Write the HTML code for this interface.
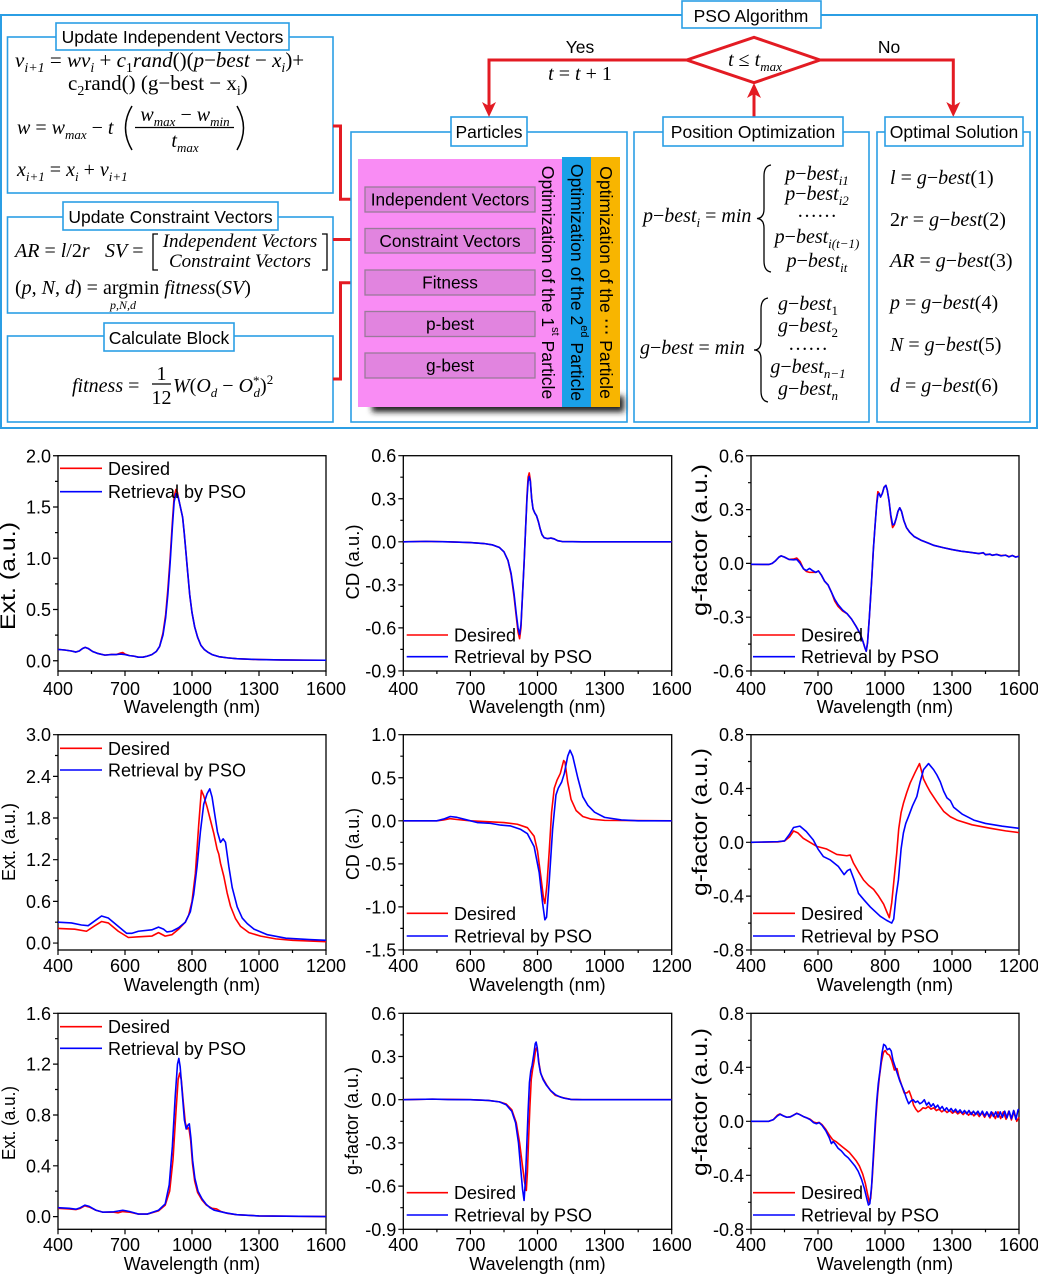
<!DOCTYPE html>
<html><head><meta charset="utf-8"><style>
html,body{margin:0;padding:0;background:#fff;}
svg{display:block;font-family:"Liberation Sans",Arial,sans-serif;}
text{fill:#000;}
.m,.m text{font-family:"Liberation Serif","DejaVu Serif",serif;font-size:20px;}
.lb{font-size:17.5px;}
.tk{font-size:18px;}
.lg{font-size:18px;}
.bx{fill:#fff;stroke:#2b9ee4;stroke-width:1.6;}
.fr{fill:none;stroke:#000;stroke-width:1.3;}
.tm{fill:none;stroke:#000;stroke-width:1.2;}
.rd{fill:none;stroke:#e31b23;stroke-width:3;}
.ah{fill:#e31b23;}
.crv polyline{fill:none;stroke-width:1.6;stroke-linejoin:round;}
</style></head><body>
<svg width="1038" height="1276" viewBox="0 0 1038 1276" xmlns="http://www.w3.org/2000/svg">
<defs>
<filter id="blur" x="-20%" y="-50%" width="140%" height="200%"><feGaussianBlur stdDeviation="3"/></filter>
</defs>
<rect x="0" y="0" width="1038" height="1276" fill="#fff"/>

<!-- ============ TOP DIAGRAM ============ -->
<rect x="1" y="15" width="1036" height="413" fill="none" stroke="#2b9ee4" stroke-width="2"/>
<rect class="bx" x="682" y="1" width="139" height="27"/>
<text x="751" y="22" text-anchor="middle" class="lb">PSO Algorithm</text>

<!-- left boxes -->
<rect class="bx" x="7.5" y="37" width="325.5" height="156"/>
<rect class="bx" x="56" y="23" width="233" height="27"/>
<text x="172.5" y="43" text-anchor="middle" class="lb">Update Independent Vectors</text>

<rect class="bx" x="7.5" y="217" width="325.5" height="96"/>
<rect class="bx" x="63" y="202" width="215" height="28"/>
<text x="170.5" y="223" text-anchor="middle" class="lb">Update Constraint Vectors</text>

<rect class="bx" x="7.5" y="336" width="325.5" height="86"/>
<rect class="bx" x="104" y="323" width="130" height="28"/>
<text x="169" y="344" text-anchor="middle" class="lb">Calculate Block</text>

<!-- box1 math -->
<text class="m" x="15" y="67" style="font-size:21px"><tspan font-style="italic">v</tspan><tspan font-style="italic" font-size="14" baseline-shift="-5">i+1</tspan> = <tspan font-style="italic">wv</tspan><tspan font-style="italic" font-size="14" baseline-shift="-5">i</tspan> + <tspan font-style="italic">c</tspan><tspan font-size="14" baseline-shift="-5">1</tspan><tspan font-style="italic">rand</tspan>()(<tspan font-style="italic">p</tspan>−<tspan font-style="italic">best</tspan> − <tspan font-style="italic">x</tspan><tspan font-style="italic" font-size="14" baseline-shift="-5">i</tspan>)+</text>
<text class="m" x="68" y="90" style="font-size:21px">c<tspan font-size="14" baseline-shift="-5">2</tspan>rand() (g−best − x<tspan font-size="14" baseline-shift="-5">i</tspan>)</text>
<text class="m" x="17" y="134"><tspan font-style="italic">w</tspan> = <tspan font-style="italic">w</tspan><tspan font-style="italic" font-size="13" baseline-shift="-5">max</tspan> − <tspan font-style="italic">t</tspan></text>
<path d="M132,106 Q119,128 132,150 M237,106 Q250,128 237,150" fill="none" stroke="#000" stroke-width="1.5"/>
<text class="m" x="185" y="121" text-anchor="middle"><tspan font-style="italic">w</tspan><tspan font-style="italic" font-size="13" baseline-shift="-5">max</tspan> − <tspan font-style="italic">w</tspan><tspan font-style="italic" font-size="13" baseline-shift="-5">min</tspan></text>
<line x1="135" y1="127.5" x2="234" y2="127.5" stroke="#000" stroke-width="1.2"/>
<text class="m" x="185" y="147" text-anchor="middle"><tspan font-style="italic">t</tspan><tspan font-style="italic" font-size="13" baseline-shift="-5">max</tspan></text>
<text class="m" x="17" y="176"><tspan font-style="italic">x</tspan><tspan font-style="italic" font-size="13" baseline-shift="-5">i+1</tspan> = <tspan font-style="italic">x</tspan><tspan font-style="italic" font-size="13" baseline-shift="-5">i</tspan> + <tspan font-style="italic">v</tspan><tspan font-style="italic" font-size="13" baseline-shift="-5">i+1</tspan></text>

<!-- box2 math -->
<text class="m" x="15" y="257"><tspan font-style="italic">AR</tspan> = <tspan font-style="italic">l</tspan>/2<tspan font-style="italic">r</tspan></text>
<text class="m" x="105" y="257"><tspan font-style="italic">SV</tspan> =</text>
<path d="M158,234 H153 V270 H158 M322,234 H327 V270 H322" fill="none" stroke="#000" stroke-width="1.3"/>
<text class="m" x="240" y="247" text-anchor="middle" font-style="italic" style="font-size:19px">Independent Vectors</text>
<text class="m" x="240" y="267" text-anchor="middle" font-style="italic" style="font-size:19px">Constraint Vectors</text>
<text class="m" x="15" y="294">(<tspan font-style="italic">p</tspan>, <tspan font-style="italic">N</tspan>, <tspan font-style="italic">d</tspan>) = argmin <tspan font-style="italic">fitness</tspan>(<tspan font-style="italic">SV</tspan>)</text>
<text class="m" x="110" y="309" font-style="italic" style="font-size:12px">p,N,d</text>

<!-- box3 math -->
<text class="m" x="72" y="392"><tspan font-style="italic">fitness</tspan> =</text>
<text class="m" x="161.5" y="380" text-anchor="middle">1</text>
<line x1="152" y1="384" x2="171" y2="384" stroke="#000" stroke-width="1.2"/>
<text class="m" x="161.5" y="404" text-anchor="middle">12</text>
<text class="m" x="173" y="392"><tspan font-style="italic">W</tspan>(<tspan font-style="italic">O</tspan><tspan font-style="italic" font-size="13" baseline-shift="-5">d</tspan> − <tspan font-style="italic">O</tspan><tspan font-size="13" baseline-shift="7">*</tspan><tspan font-style="italic" font-size="13" baseline-shift="-5" dx="-6">d</tspan>)<tspan font-size="13" baseline-shift="8">2</tspan></text>

<!-- red connectors left -->
<path class="rd" d="M333,126 H340.5 V199.3 H356"/>
<polygon class="ah" points="365,199.3 351,192.3 355,199.3 351,206.3"/>
<path class="rd" d="M333,239.5 H356"/>
<polygon class="ah" points="365,239.5 351,232.5 355,239.5 351,246.5"/>
<path class="rd" d="M333,379 H340.5 V282.7 H356"/>
<polygon class="ah" points="365,282.7 351,275.7 355,282.7 351,289.7"/>

<!-- Particles -->
<rect class="bx" x="351" y="132" width="276" height="290"/>
<rect x="372" y="396" width="252" height="16" fill="#222" filter="url(#blur)"/>
<rect x="358" y="159" width="204" height="248" fill="#f98cf4"/>
<rect x="562" y="157" width="29" height="250" fill="#1aa0e8"/>
<rect x="591" y="157" width="29" height="250" fill="#f8b500"/>
<g fill="#e184df" stroke="#9a7a9a" stroke-width="1.3">
<rect x="365" y="187" width="170" height="25"/>
<rect x="365" y="228.5" width="170" height="24.5"/>
<rect x="365" y="270" width="170" height="25"/>
<rect x="365" y="311.5" width="170" height="25"/>
<rect x="365" y="353" width="170" height="25"/>
</g>
<g text-anchor="middle" font-size="17.3">
<text x="450" y="205.5">Independent Vectors</text>
<text x="450" y="247">Constraint Vectors</text>
<text x="450" y="288.5">Fitness</text>
<text x="450" y="330">p-best</text>
<text x="450" y="371.5">g-best</text>
</g>
<text transform="translate(548,282.5) rotate(90)" text-anchor="middle" dominant-baseline="central" font-size="17.6">Optimization of the 1<tspan font-size="11" baseline-shift="7">st</tspan> Particle</text>
<text transform="translate(577,282.5) rotate(90)" text-anchor="middle" dominant-baseline="central" font-size="17.6">Optimization of the 2<tspan font-size="11" baseline-shift="7">ed</tspan> Particle</text>
<text transform="translate(606,282.5) rotate(90)" text-anchor="middle" dominant-baseline="central" font-size="17.6">Optimization of the <tspan font-family="DejaVu Sans">⋯</tspan> Particle</text>
<rect class="bx" x="451" y="117" width="76" height="29"/>
<text x="489" y="138" text-anchor="middle" class="lb">Particles</text>

<!-- Diamond and flow -->
<path class="rd" d="M686.7,60 H489 V106"/>
<polygon class="ah" points="489,117 482,102 489,106 496,102"/>
<path class="rd" d="M820,60 H953.3 V106"/>
<polygon class="ah" points="953.3,117 946.3,102 953.3,106 960.3,102"/>
<path class="rd" d="M754,117 V94"/>
<polygon class="ah" points="754,83 747,98 754,94 761,98"/>
<polygon points="686.7,60 754,37.3 820,60 754,82.7" fill="#fff" stroke="#e31b23" stroke-width="3"/>
<text class="m" x="755" y="66" text-anchor="middle"><tspan font-style="italic">t</tspan> ≤ <tspan font-style="italic">t</tspan><tspan font-style="italic" font-size="13" baseline-shift="-5">max</tspan></text>
<text x="580" y="53" text-anchor="middle" class="lb">Yes</text>
<text class="m" x="580" y="80" text-anchor="middle"><tspan font-style="italic">t</tspan> = <tspan font-style="italic">t</tspan> + 1</text>
<text x="889" y="53" text-anchor="middle" class="lb">No</text>

<!-- Position Optimization -->
<rect class="bx" x="634" y="132" width="235" height="290"/>
<rect class="bx" x="663" y="117" width="180" height="29"/>
<text x="753" y="138" text-anchor="middle" class="lb">Position Optimization</text>
<text class="m" x="643" y="222"><tspan font-style="italic">p</tspan>−<tspan font-style="italic">best</tspan><tspan font-style="italic" font-size="13" baseline-shift="-5">i</tspan> = <tspan font-style="italic">min</tspan></text>
<path d="M771,165 Q764,166 764,176 L764,209 Q764,218 757,218.5 Q764,219 764,228 L764,261 Q764,271 771,272" fill="none" stroke="#000" stroke-width="1.3"/>
<g class="m" text-anchor="middle">
<text x="817" y="180"><tspan font-style="italic">p</tspan>−<tspan font-style="italic">best</tspan><tspan font-style="italic" font-size="13" baseline-shift="-5">i1</tspan></text>
<text x="817" y="200"><tspan font-style="italic">p</tspan>−<tspan font-style="italic">best</tspan><tspan font-style="italic" font-size="13" baseline-shift="-5">i2</tspan></text>
<text x="817" y="217">……</text>
<text x="817" y="243"><tspan font-style="italic">p</tspan>−<tspan font-style="italic">best</tspan><tspan font-style="italic" font-size="13" baseline-shift="-5">i(t−1)</tspan></text>
<text x="817" y="267"><tspan font-style="italic">p</tspan>−<tspan font-style="italic">best</tspan><tspan font-style="italic" font-size="13" baseline-shift="-5">it</tspan></text>
</g>
<text class="m" x="640" y="354"><tspan font-style="italic">g</tspan>−<tspan font-style="italic">best</tspan> = <tspan font-style="italic">min</tspan></text>
<path d="M768,298 Q761,299 761,309 L761,341 Q761,350 754,350 Q761,350 761,359 L761,391 Q761,401 768,402" fill="none" stroke="#000" stroke-width="1.3"/>
<g class="m" text-anchor="middle">
<text x="808" y="310"><tspan font-style="italic">g</tspan>−<tspan font-style="italic">best</tspan><tspan font-size="13" baseline-shift="-5">1</tspan></text>
<text x="808" y="332"><tspan font-style="italic">g</tspan>−<tspan font-style="italic">best</tspan><tspan font-size="13" baseline-shift="-5">2</tspan></text>
<text x="808" y="350">……</text>
<text x="808" y="373"><tspan font-style="italic">g</tspan>−<tspan font-style="italic">best</tspan><tspan font-style="italic" font-size="13" baseline-shift="-5">n−1</tspan></text>
<text x="808" y="395"><tspan font-style="italic">g</tspan>−<tspan font-style="italic">best</tspan><tspan font-style="italic" font-size="13" baseline-shift="-5">n</tspan></text>
</g>

<!-- Optimal Solution -->
<rect class="bx" x="877" y="132" width="153" height="290"/>
<rect class="bx" x="885" y="117" width="138" height="29"/>
<text x="954" y="138" text-anchor="middle" class="lb">Optimal Solution</text>
<g class="m">
<text x="890" y="184"><tspan font-style="italic">l</tspan> = <tspan font-style="italic">g</tspan>−<tspan font-style="italic">best</tspan>(1)</text>
<text x="890" y="226">2<tspan font-style="italic">r</tspan> = <tspan font-style="italic">g</tspan>−<tspan font-style="italic">best</tspan>(2)</text>
<text x="890" y="267"><tspan font-style="italic">AR</tspan> = <tspan font-style="italic">g</tspan>−<tspan font-style="italic">best</tspan>(3)</text>
<text x="890" y="309"><tspan font-style="italic">p</tspan> = <tspan font-style="italic">g</tspan>−<tspan font-style="italic">best</tspan>(4)</text>
<text x="890" y="351"><tspan font-style="italic">N</tspan> = <tspan font-style="italic">g</tspan>−<tspan font-style="italic">best</tspan>(5)</text>
<text x="890" y="392"><tspan font-style="italic">d</tspan> = <tspan font-style="italic">g</tspan>−<tspan font-style="italic">best</tspan>(6)</text>
</g>

<!-- ============ PLOTS ============ -->
<rect class="fr" x="58" y="455.7" width="268" height="215.3"/>
<rect class="fr" x="403.3" y="455.7" width="268.4" height="215.3"/>
<rect class="fr" x="751" y="455.7" width="268" height="215.3"/>
<rect class="fr" x="58" y="734.7" width="268" height="215.3"/>
<rect class="fr" x="403.3" y="734.7" width="268.4" height="215.3"/>
<rect class="fr" x="751" y="734.7" width="268" height="215.3"/>
<rect class="fr" x="58" y="1013.3" width="268" height="216"/>
<rect class="fr" x="403.3" y="1013.3" width="268.4" height="216"/>
<rect class="fr" x="751" y="1013.3" width="268" height="216"/>

<path class="tm" d="
M58,671v5M125,671v5M192,671v5M259,671v5M326,671v5M91.5,671v3M158.5,671v3M225.5,671v3M292.5,671v3
M403.3,671v5M470.4,671v5M537.5,671v5M604.6,671v5M671.7,671v5M436.9,671v3M504,671v3M571.1,671v3M638.2,671v3
M751,671v5M818,671v5M885,671v5M952,671v5M1019,671v5M784.5,671v3M851.5,671v3M918.5,671v3M985.5,671v3
M58,950v5M125,950v5M192,950v5M259,950v5M326,950v5M91.5,950v3M158.5,950v3M225.5,950v3M292.5,950v3
M403.3,950v5M470.4,950v5M537.5,950v5M604.6,950v5M671.7,950v5M436.9,950v3M504,950v3M571.1,950v3M638.2,950v3
M751,950v5M818,950v5M885,950v5M952,950v5M1019,950v5M784.5,950v3M851.5,950v3M918.5,950v3M985.5,950v3
M58,1229.3v5M125,1229.3v5M192,1229.3v5M259,1229.3v5M326,1229.3v5M91.5,1229.3v3M158.5,1229.3v3M225.5,1229.3v3M292.5,1229.3v3
M403.3,1229.3v5M470.4,1229.3v5M537.5,1229.3v5M604.6,1229.3v5M671.7,1229.3v5M436.9,1229.3v3M504,1229.3v3M571.1,1229.3v3M638.2,1229.3v3
M751,1229.3v5M818,1229.3v5M885,1229.3v5M952,1229.3v5M1019,1229.3v5M784.5,1229.3v3M851.5,1229.3v3M918.5,1229.3v3M985.5,1229.3v3
M58,660.75h-5M58,609.5h-5M58,558.25h-5M58,507h-5M58,455.75h-5M58,635.1h-3M58,583.9h-3M58,532.6h-3M58,481.4h-3
M403.3,455.7h-5M403.3,498.75h-5M403.3,541.8h-5M403.3,584.85h-5M403.3,627.9h-5M403.3,670.95h-5M403.3,477.2h-3M403.3,520.3h-3M403.3,563.3h-3M403.3,606.4h-3M403.3,649.4h-3
M751,455.8h-5M751,509.6h-5M751,563.4h-5M751,617.2h-5M751,671h-5M751,482.7h-3M751,536.5h-3M751,590.3h-3M751,644.1h-3
M58,943.05h-5M58,901.4h-5M58,859.7h-5M58,818h-5M58,776.4h-5M58,734.7h-5M58,922.2h-3M58,880.5h-3M58,838.9h-3M58,797.2h-3M58,755.5h-3
M403.3,734.7h-5M403.3,777.75h-5M403.3,820.8h-5M403.3,863.85h-5M403.3,906.9h-5M403.3,949.95h-5M403.3,756.2h-3M403.3,799.3h-3M403.3,842.3h-3M403.3,885.4h-3M403.3,928.4h-3
M751,734.6h-5M751,788.5h-5M751,842.3h-5M751,896.1h-5M751,950h-5M751,761.5h-3M751,815.4h-3M751,869.2h-3M751,923.1h-3
M58,1216.6h-5M58,1165.8h-5M58,1115h-5M58,1064.1h-5M58,1013.3h-5M58,1191.2h-3M58,1140.4h-3M58,1089.5h-3M58,1038.7h-3
M403.3,1013.3h-5M403.3,1056.5h-5M403.3,1099.7h-5M403.3,1142.9h-5M403.3,1186.1h-5M403.3,1229.3h-5M403.3,1034.9h-3M403.3,1078.1h-3M403.3,1121.3h-3M403.3,1164.5h-3M403.3,1207.7h-3
M751,1013.3h-5M751,1067.3h-5M751,1121.3h-5M751,1175.3h-5M751,1229.3h-5M751,1040.3h-3M751,1094.3h-3M751,1148.3h-3M751,1202.3h-3"/>

<g class="tk" text-anchor="end">
<text x="51" y="667.25">0.0</text><text x="51" y="616">0.5</text><text x="51" y="564.75">1.0</text><text x="51" y="513.5">1.5</text><text x="51" y="462.25">2.0</text>
<text x="396.3" y="462.2">0.6</text><text x="396.3" y="505.25">0.3</text><text x="396.3" y="548.3">0.0</text><text x="396.3" y="591.35">-0.3</text><text x="396.3" y="634.4">-0.6</text><text x="396.3" y="677.45">-0.9</text>
<text x="744" y="462.3">0.6</text><text x="744" y="516.1">0.3</text><text x="744" y="569.9">0.0</text><text x="744" y="623.7">-0.3</text><text x="744" y="677.5">-0.6</text>
<text x="51" y="949.55">0.0</text><text x="51" y="907.9">0.6</text><text x="51" y="866.2">1.2</text><text x="51" y="824.5">1.8</text><text x="51" y="782.9">2.4</text><text x="51" y="741.2">3.0</text>
<text x="396.3" y="741.2">1.0</text><text x="396.3" y="784.25">0.5</text><text x="396.3" y="827.3">0.0</text><text x="396.3" y="870.35">-0.5</text><text x="396.3" y="913.4">-1.0</text><text x="396.3" y="956.45">-1.5</text>
<text x="744" y="741.1">0.8</text><text x="744" y="795">0.4</text><text x="744" y="848.8">0.0</text><text x="744" y="902.6">-0.4</text><text x="744" y="956.5">-0.8</text>
<text x="51" y="1223.1">0.0</text><text x="51" y="1172.3">0.4</text><text x="51" y="1121.5">0.8</text><text x="51" y="1070.6">1.2</text><text x="51" y="1019.8">1.6</text>
<text x="396.3" y="1019.8">0.6</text><text x="396.3" y="1063">0.3</text><text x="396.3" y="1106.2">0.0</text><text x="396.3" y="1149.4">-0.3</text><text x="396.3" y="1192.6">-0.6</text><text x="396.3" y="1235.8">-0.9</text>
<text x="744" y="1019.8">0.8</text><text x="744" y="1073.8">0.4</text><text x="744" y="1127.8">0.0</text><text x="744" y="1181.8">-0.4</text><text x="744" y="1235.8">-0.8</text>
</g>

<g class="tk" text-anchor="middle">
<text x="58" y="695">400</text><text x="125" y="695">700</text><text x="192" y="695">1000</text><text x="259" y="695">1300</text><text x="326" y="695">1600</text>
<text x="403.3" y="695">400</text><text x="470.4" y="695">700</text><text x="537.5" y="695">1000</text><text x="604.6" y="695">1300</text><text x="671.7" y="695">1600</text>
<text x="751" y="695">400</text><text x="818" y="695">700</text><text x="885" y="695">1000</text><text x="952" y="695">1300</text><text x="1019" y="695">1600</text>
<text x="58" y="972">400</text><text x="125" y="972">600</text><text x="192" y="972">800</text><text x="259" y="972">1000</text><text x="326" y="972">1200</text>
<text x="403.3" y="972">400</text><text x="470.4" y="972">600</text><text x="537.5" y="972">800</text><text x="604.6" y="972">1000</text><text x="671.7" y="972">1200</text>
<text x="751" y="972">400</text><text x="818" y="972">600</text><text x="885" y="972">800</text><text x="952" y="972">1000</text><text x="1019" y="972">1200</text>
<text x="58" y="1251">400</text><text x="125" y="1251">700</text><text x="192" y="1251">1000</text><text x="259" y="1251">1300</text><text x="326" y="1251">1600</text>
<text x="403.3" y="1251">400</text><text x="470.4" y="1251">700</text><text x="537.5" y="1251">1000</text><text x="604.6" y="1251">1300</text><text x="671.7" y="1251">1600</text>
<text x="751" y="1251">400</text><text x="818" y="1251">700</text><text x="885" y="1251">1000</text><text x="952" y="1251">1300</text><text x="1019" y="1251">1600</text>
<text x="192" y="713">Wavelength (nm)</text><text x="537.5" y="713">Wavelength (nm)</text><text x="885" y="713">Wavelength (nm)</text>
<text x="192" y="991">Wavelength (nm)</text><text x="537.5" y="991">Wavelength (nm)</text><text x="885" y="991">Wavelength (nm)</text>
<text x="192" y="1270">Wavelength (nm)</text><text x="537.5" y="1270">Wavelength (nm)</text><text x="885" y="1270">Wavelength (nm)</text>
</g>

<g text-anchor="middle">
<text transform="translate(15,576) rotate(-90)" font-size="21" textLength="108" lengthAdjust="spacingAndGlyphs">Ext. (a.u.)</text>
<text transform="translate(359,562) rotate(-90)" font-size="18" textLength="75" lengthAdjust="spacingAndGlyphs">CD (a.u.)</text>
<text transform="translate(707,540) rotate(-90)" font-size="21" textLength="152" lengthAdjust="spacingAndGlyphs">g-factor (a.u.)</text>
<text transform="translate(15,842) rotate(-90)" font-size="18" textLength="78" lengthAdjust="spacingAndGlyphs">Ext. (a.u.)</text>
<text transform="translate(359,844) rotate(-90)" font-size="18" textLength="72" lengthAdjust="spacingAndGlyphs">CD (a.u.)</text>
<text transform="translate(707,822) rotate(-90)" font-size="21" textLength="148" lengthAdjust="spacingAndGlyphs">g-factor (a.u.)</text>
<text transform="translate(15,1123) rotate(-90)" font-size="18" textLength="74" lengthAdjust="spacingAndGlyphs">Ext. (a.u.)</text>
<text transform="translate(358,1121) rotate(-90)" font-size="18" textLength="108" lengthAdjust="spacingAndGlyphs">g-factor (a.u.)</text>
<text transform="translate(707,1102) rotate(-90)" font-size="21" textLength="148" lengthAdjust="spacingAndGlyphs">g-factor (a.u.)</text>
</g>

<!-- ============ CURVES ============ -->
<g class="crv" transform="translate(-31.33,660.75) scale(0.22333,-102.5)">
<polyline vector-effect="non-scaling-stroke" stroke="#ff0000" points="400,0.11 430,0.105 460,0.095 480,0.085 495,0.095 510,0.12 522,0.13 535,0.12 555,0.09 580,0.07 610,0.055 640,0.062 660,0.06 680,0.075 690,0.08 700,0.065 720,0.05 740,0.045 760,0.035 780,0.035 800,0.045 820,0.06 840,0.09 855,0.14 870,0.27 882,0.45 892,0.7 902,1.0 912,1.35 920,1.6 928,1.67 935,1.64 942,1.56 950,1.48 958,1.4 965,1.25 972,1.08 980,0.88 990,0.64 1000,0.47 1012,0.33 1025,0.23 1040,0.15 1055,0.11 1070,0.085 1090,0.06 1120,0.04 1160,0.028 1200,0.02 1250,0.015 1300,0.012 1400,0.008 1500,0.006 1600,0.005"/>
<polyline vector-effect="non-scaling-stroke" stroke="#0000ff" points="400,0.11 430,0.105 460,0.095 480,0.085 495,0.095 510,0.12 522,0.13 535,0.12 555,0.09 580,0.07 610,0.055 640,0.06 660,0.06 680,0.065 700,0.06 720,0.05 740,0.045 760,0.035 780,0.035 800,0.045 820,0.06 840,0.09 855,0.14 870,0.25 882,0.42 892,0.65 902,0.95 912,1.3 920,1.55 928,1.63 935,1.62 942,1.56 950,1.48 958,1.4 965,1.25 972,1.08 980,0.88 990,0.64 1000,0.47 1012,0.33 1025,0.23 1040,0.15 1055,0.11 1070,0.085 1090,0.06 1120,0.04 1160,0.028 1200,0.02 1250,0.015 1300,0.012 1400,0.008 1500,0.006 1600,0.005"/>
</g>
<g class="crv" transform="translate(313.83,541.8) scale(0.22367,-143.5)">
<polyline vector-effect="non-scaling-stroke" stroke="#ff0000" points="400,0 500,0.003 600,0 700,-0.005 760,-0.012 800,-0.022 830,-0.04 850,-0.07 868,-0.13 882,-0.23 895,-0.38 905,-0.52 913,-0.63 920,-0.675 926,-0.6 932,-0.4 940,-0.15 947,0.1 953,0.32 958,0.45 963,0.48 968,0.43 974,0.3 980,0.23 988,0.2 996,0.18 1004,0.14 1012,0.09 1020,0.05 1030,0.028 1045,0.022 1060,0.026 1075,0.02 1090,0.008 1110,0.002 1200,0 1600,0"/>
<polyline vector-effect="non-scaling-stroke" stroke="#0000ff" points="400,0 500,0.003 600,0 700,-0.005 760,-0.012 800,-0.022 830,-0.04 850,-0.07 868,-0.13 882,-0.22 895,-0.36 905,-0.5 913,-0.6 920,-0.645 926,-0.58 932,-0.4 940,-0.15 947,0.1 953,0.3 958,0.42 963,0.455 968,0.42 974,0.3 980,0.23 988,0.2 996,0.18 1004,0.14 1012,0.09 1020,0.05 1030,0.028 1045,0.022 1060,0.026 1075,0.02 1090,0.008 1110,0.002 1200,0 1600,0"/>
</g>
<g class="crv" transform="translate(661.67,563.4) scale(0.22333,-179.4)">
<polyline vector-effect="non-scaling-stroke" stroke="#ff0000" points="400,-0.005 480,-0.006 495,0 510,0.015 525,0.035 535,0.042 550,0.035 570,0.022 590,0.024 605,0.03 620,0.01 635,-0.03 648,-0.045 662,-0.05 675,-0.05 690,-0.05 702,-0.042 715,-0.065 730,-0.1 745,-0.12 760,-0.16 775,-0.21 790,-0.24 810,-0.265 830,-0.28 850,-0.31 870,-0.35 888,-0.39 900,-0.43 910,-0.47 916,-0.49 922,-0.44 930,-0.3 940,-0.1 948,0.08 956,0.22 963,0.34 968,0.4 974,0.39 980,0.37 988,0.39 996,0.425 1004,0.435 1010,0.41 1018,0.35 1026,0.26 1034,0.2 1042,0.215 1050,0.25 1058,0.29 1066,0.31 1074,0.29 1084,0.24 1096,0.2 1110,0.175 1130,0.15 1160,0.13 1190,0.115 1220,0.1 1260,0.088 1300,0.077 1340,0.068 1380,0.062 1420,0.055 1440,0.058 1450,0.05 1470,0.05 1480,0.046 1500,0.05 1520,0.044 1540,0.046 1555,0.038 1570,0.044 1585,0.036 1600,0.04"/>
<polyline vector-effect="non-scaling-stroke" stroke="#0000ff" points="400,-0.005 480,-0.006 495,0 510,0.015 525,0.035 535,0.042 550,0.035 570,0.022 590,0.02 605,0.022 620,0 635,-0.03 648,-0.04 662,-0.028 675,-0.04 690,-0.05 702,-0.042 715,-0.065 730,-0.1 745,-0.12 760,-0.16 775,-0.2 790,-0.23 810,-0.26 830,-0.28 850,-0.31 870,-0.35 888,-0.39 900,-0.43 910,-0.47 916,-0.49 922,-0.44 930,-0.3 940,-0.1 948,0.08 956,0.22 963,0.33 968,0.38 974,0.39 980,0.37 988,0.39 996,0.425 1004,0.435 1010,0.41 1018,0.35 1026,0.27 1034,0.215 1042,0.22 1050,0.25 1058,0.29 1066,0.31 1074,0.29 1084,0.24 1096,0.2 1110,0.175 1130,0.15 1160,0.13 1190,0.115 1220,0.1 1260,0.088 1300,0.077 1340,0.068 1380,0.062 1420,0.055 1440,0.06 1450,0.048 1470,0.052 1480,0.045 1500,0.05 1520,0.042 1540,0.046 1555,0.036 1570,0.044 1585,0.035 1600,0.04"/>
</g>
<g class="crv" transform="translate(-76,943.05) scale(0.335,-69.45)">
<polyline vector-effect="non-scaling-stroke" stroke="#ff0000" points="400,0.21 450,0.2 485,0.17 510,0.25 530,0.31 550,0.29 580,0.17 610,0.08 640,0.09 680,0.1 700,0.15 720,0.1 740,0.12 760,0.2 780,0.3 790,0.4 800,0.6 810,1.0 820,1.7 828,2.2 835,2.12 845,1.96 855,1.77 865,1.58 875,1.35 880,1.28 885,1.15 895,0.96 905,0.72 915,0.53 930,0.35 945,0.24 970,0.15 1005,0.1 1050,0.06 1100,0.04 1200,0.02"/>
<polyline vector-effect="non-scaling-stroke" stroke="#0000ff" points="400,0.3 440,0.29 470,0.26 490,0.25 510,0.32 530,0.39 550,0.36 580,0.24 605,0.14 620,0.14 640,0.17 680,0.19 700,0.23 715,0.2 725,0.16 740,0.17 760,0.22 780,0.3 795,0.45 805,0.7 815,1.1 825,1.6 835,2.0 845,2.15 853,2.22 860,2.1 868,1.85 876,1.6 885,1.45 893,1.5 900,1.45 910,1.1 920,0.8 935,0.52 950,0.36 965,0.28 985,0.2 1025,0.12 1080,0.07 1150,0.05 1200,0.04"/>
</g>
<g class="crv" transform="translate(269.1,820.8) scale(0.3355,-86.1)">
<polyline vector-effect="non-scaling-stroke" stroke="#ff0000" points="400,0 500,0 520,0.01 540,0.025 560,0.015 600,0 650,-0.01 700,-0.02 740,-0.04 770,-0.08 790,-0.18 800,-0.35 810,-0.65 818,-0.9 822,-0.96 828,-0.75 835,-0.35 842,0.1 850,0.38 858,0.47 868,0.55 878,0.7 882,0.68 890,0.45 900,0.25 915,0.12 935,0.05 960,0.02 1000,0.005 1200,0"/>
<polyline vector-effect="non-scaling-stroke" stroke="#0000ff" points="400,0 500,0 520,0.02 540,0.05 560,0.04 590,0.01 620,-0.02 660,-0.03 690,-0.05 720,-0.06 750,-0.1 770,-0.15 790,-0.3 805,-0.6 815,-0.95 822,-1.15 827,-1.12 835,-0.7 845,-0.1 855,0.3 862,0.38 872,0.45 880,0.55 890,0.75 897,0.82 905,0.75 920,0.5 935,0.28 950,0.18 970,0.1 1000,0.04 1050,0.01 1100,0 1200,0"/>
</g>
<g class="crv" transform="translate(617,842.3) scale(0.335,-134.6)">
<polyline vector-effect="non-scaling-stroke" stroke="#ff0000" points="400,0 480,0.003 500,0.01 515,0.04 527,0.084 540,0.07 556,0.03 576,0 596,-0.03 626,-0.05 656,-0.09 686,-0.1 696,-0.095 706,-0.155 721,-0.22 736,-0.28 751,-0.32 766,-0.35 781,-0.4 796,-0.46 806,-0.52 813,-0.56 820,-0.45 828,-0.25 835,-0.08 841,0.1 848,0.22 855,0.29 865,0.37 875,0.44 890,0.52 903,0.585 910,0.52 915,0.47 925,0.42 935,0.375 955,0.3 975,0.23 995,0.19 1015,0.165 1060,0.13 1115,0.104 1160,0.085 1200,0.072"/>
<polyline vector-effect="non-scaling-stroke" stroke="#0000ff" points="400,0 480,0.005 500,0.01 515,0.06 527,0.11 546,0.12 565,0.08 586,0.017 600,-0.05 616,-0.106 636,-0.13 661,-0.18 678,-0.24 688,-0.21 696,-0.2 708,-0.28 721,-0.38 738,-0.43 756,-0.48 786,-0.55 805,-0.58 820,-0.6 826,-0.57 833,-0.4 840,-0.28 848,-0.05 855,0.07 862,0.14 870,0.19 882,0.27 895,0.34 905,0.45 915,0.54 930,0.585 945,0.54 955,0.5 965,0.45 975,0.38 985,0.33 995,0.31 1005,0.26 1030,0.21 1065,0.165 1100,0.14 1150,0.12 1200,0.104"/>
</g>
<g class="crv" transform="translate(-31.33,1216.6) scale(0.22333,-127.06)">
<polyline vector-effect="non-scaling-stroke" stroke="#ff0000" points="400,0.065 450,0.06 480,0.055 500,0.065 520,0.085 540,0.075 570,0.05 600,0.035 650,0.035 670,0.03 690,0.04 720,0.035 760,0.02 800,0.02 850,0.045 880,0.09 900,0.2 915,0.45 928,0.82 938,1.08 945,1.13 952,1.08 960,0.92 970,0.74 978,0.69 986,0.7 994,0.6 1002,0.42 1012,0.28 1025,0.19 1045,0.13 1065,0.09 1090,0.065 1110,0.06 1130,0.04 1160,0.025 1200,0.015 1300,0.005 1600,0"/>
<polyline vector-effect="non-scaling-stroke" stroke="#0000ff" points="400,0.07 450,0.065 480,0.058 500,0.07 520,0.09 540,0.08 570,0.05 600,0.035 650,0.038 690,0.05 720,0.04 760,0.02 800,0.02 850,0.05 880,0.1 898,0.25 912,0.55 925,0.95 935,1.2 941,1.245 947,1.18 956,0.98 966,0.76 974,0.69 982,0.72 988,0.73 995,0.62 1003,0.44 1013,0.3 1027,0.2 1045,0.14 1062,0.1 1080,0.07 1100,0.05 1150,0.03 1200,0.015 1300,0.005 1600,0"/>
</g>
<g class="crv" transform="translate(313.83,1099.7) scale(0.22367,-144)">
<polyline vector-effect="non-scaling-stroke" stroke="#ff0000" points="400,0 530,0.004 700,0 780,-0.005 830,-0.015 860,-0.03 885,-0.07 905,-0.16 920,-0.3 932,-0.45 942,-0.57 950,-0.63 955,-0.5 960,-0.28 966,-0.05 972,0.14 978,0.21 985,0.27 992,0.35 996,0.36 1001,0.33 1007,0.25 1015,0.18 1027,0.14 1042,0.1 1060,0.06 1080,0.03 1110,0.015 1150,0.002 1200,0 1600,0"/>
<polyline vector-effect="non-scaling-stroke" stroke="#0000ff" points="400,0 530,0.004 600,0.001 700,0 780,-0.005 830,-0.015 860,-0.035 885,-0.08 902,-0.16 915,-0.3 925,-0.48 933,-0.62 940,-0.7 946,-0.56 952,-0.32 958,-0.08 964,0.12 970,0.2 976,0.24 983,0.31 990,0.39 994,0.4 999,0.36 1005,0.26 1013,0.19 1025,0.14 1040,0.1 1058,0.065 1080,0.035 1100,0.02 1120,0.01 1150,0.002 1200,0 1600,0"/>
</g>
<g class="crv" transform="translate(661.67,1121.3) scale(0.22333,-135)">
<polyline vector-effect="non-scaling-stroke" stroke="#ff0000" points="400,0 480,0 500,0.012 518,0.045 530,0.055 545,0.04 560,0.03 575,0.033 590,0.045 605,0.06 618,0.05 635,0.035 650,0.025 665,0.015 680,-0.005 693,-0.012 705,-0.008 718,-0.025 735,-0.06 750,-0.1 765,-0.135 780,-0.15 795,-0.17 810,-0.19 825,-0.21 840,-0.23 855,-0.26 870,-0.29 885,-0.33 900,-0.39 912,-0.46 922,-0.54 930,-0.6 936,-0.57 943,-0.42 951,-0.2 959,0.02 967,0.2 975,0.33 984,0.44 993,0.51 1001,0.525 1010,0.5 1020,0.49 1030,0.45 1042,0.38 1054,0.39 1062,0.33 1074,0.27 1086,0.21 1098,0.21 1108,0.225 1118,0.18 1128,0.12 1138,0.09 1148,0.07 1158,0.08 1170,0.1 1182,0.095 1194,0.11 1206,0.09 1218,0.1 1230,0.08 1242,0.09 1254,0.07 1266,0.085 1278,0.065 1290,0.08 1302,0.06 1314,0.075 1326,0.055 1338,0.07 1350,0.05 1362,0.07 1374,0.045 1386,0.065 1398,0.04 1410,0.065 1422,0.035 1434,0.065 1446,0.03 1458,0.065 1470,0.025 1482,0.065 1494,0.02 1506,0.07 1518,0.02 1530,0.07 1542,0.015 1554,0.075 1566,0.01 1578,0.075 1590,0 1600,0.03"/>
<polyline vector-effect="non-scaling-stroke" stroke="#0000ff" points="400,0 480,0 500,0.012 518,0.04 530,0.052 545,0.04 560,0.03 575,0.032 590,0.045 605,0.058 618,0.05 635,0.035 650,0.025 665,0.012 680,-0.01 693,-0.018 705,-0.01 718,-0.03 735,-0.07 750,-0.12 760,-0.165 768,-0.15 778,-0.17 790,-0.2 805,-0.22 820,-0.25 835,-0.27 850,-0.3 865,-0.33 880,-0.37 895,-0.43 908,-0.5 918,-0.57 926,-0.62 932,-0.61 940,-0.48 948,-0.25 956,-0.02 963,0.15 970,0.28 978,0.38 986,0.5 994,0.57 1002,0.56 1010,0.53 1020,0.54 1028,0.52 1036,0.45 1046,0.4 1056,0.35 1066,0.3 1076,0.26 1086,0.22 1096,0.17 1106,0.13 1116,0.15 1126,0.16 1136,0.14 1146,0.15 1156,0.13 1166,0.14 1176,0.16 1186,0.12 1196,0.14 1206,0.11 1216,0.13 1226,0.1 1236,0.12 1246,0.09 1256,0.11 1266,0.08 1276,0.1 1286,0.075 1296,0.095 1306,0.07 1316,0.09 1326,0.065 1336,0.085 1346,0.06 1356,0.08 1366,0.055 1376,0.08 1386,0.05 1396,0.075 1406,0.05 1416,0.075 1426,0.045 1436,0.075 1446,0.04 1456,0.07 1466,0.035 1476,0.07 1486,0.035 1496,0.07 1506,0.03 1516,0.07 1526,0.03 1536,0.075 1546,0.025 1556,0.075 1566,0.02 1576,0.08 1586,0.015 1596,0.085 1600,0.09"/>
</g>

<!-- ============ LEGENDS ============ -->
<g stroke-width="1.6">
<line x1="60" y1="468.3" x2="102" y2="468.3" stroke="#ff0000"/><line x1="60" y1="491.7" x2="102" y2="491.7" stroke="#0000ff"/>
<line x1="406.7" y1="635" x2="448" y2="635" stroke="#ff0000"/><line x1="406.7" y1="656.7" x2="448" y2="656.7" stroke="#0000ff"/>
<line x1="753" y1="635" x2="795" y2="635" stroke="#ff0000"/><line x1="753" y1="656.7" x2="795" y2="656.7" stroke="#0000ff"/>
<line x1="60" y1="748.3" x2="102" y2="748.3" stroke="#ff0000"/><line x1="60" y1="770" x2="102" y2="770" stroke="#0000ff"/>
<line x1="406.7" y1="913.3" x2="448" y2="913.3" stroke="#ff0000"/><line x1="406.7" y1="936" x2="448" y2="936" stroke="#0000ff"/>
<line x1="753" y1="913.3" x2="795" y2="913.3" stroke="#ff0000"/><line x1="753" y1="936" x2="795" y2="936" stroke="#0000ff"/>
<line x1="60" y1="1026.7" x2="102" y2="1026.7" stroke="#ff0000"/><line x1="60" y1="1048.3" x2="102" y2="1048.3" stroke="#0000ff"/>
<line x1="406.7" y1="1192.7" x2="448" y2="1192.7" stroke="#ff0000"/><line x1="406.7" y1="1215" x2="448" y2="1215" stroke="#0000ff"/>
<line x1="753" y1="1192.7" x2="795" y2="1192.7" stroke="#ff0000"/><line x1="753" y1="1215" x2="795" y2="1215" stroke="#0000ff"/>
</g>
<g class="lg">
<text x="108" y="474.8">Desired</text><text x="108" y="498.2">Retrieval by PSO</text>
<text x="454" y="641.5">Desired</text><text x="454" y="663.2">Retrieval by PSO</text>
<text x="801" y="641.5">Desired</text><text x="801" y="663.2">Retrieval by PSO</text>
<text x="108" y="754.8">Desired</text><text x="108" y="776.5">Retrieval by PSO</text>
<text x="454" y="919.8">Desired</text><text x="454" y="942.5">Retrieval by PSO</text>
<text x="801" y="919.8">Desired</text><text x="801" y="942.5">Retrieval by PSO</text>
<text x="108" y="1033.2">Desired</text><text x="108" y="1054.8">Retrieval by PSO</text>
<text x="454" y="1199.2">Desired</text><text x="454" y="1221.5">Retrieval by PSO</text>
<text x="801" y="1199.2">Desired</text><text x="801" y="1221.5">Retrieval by PSO</text>
</g>
</svg>
</body></html>
